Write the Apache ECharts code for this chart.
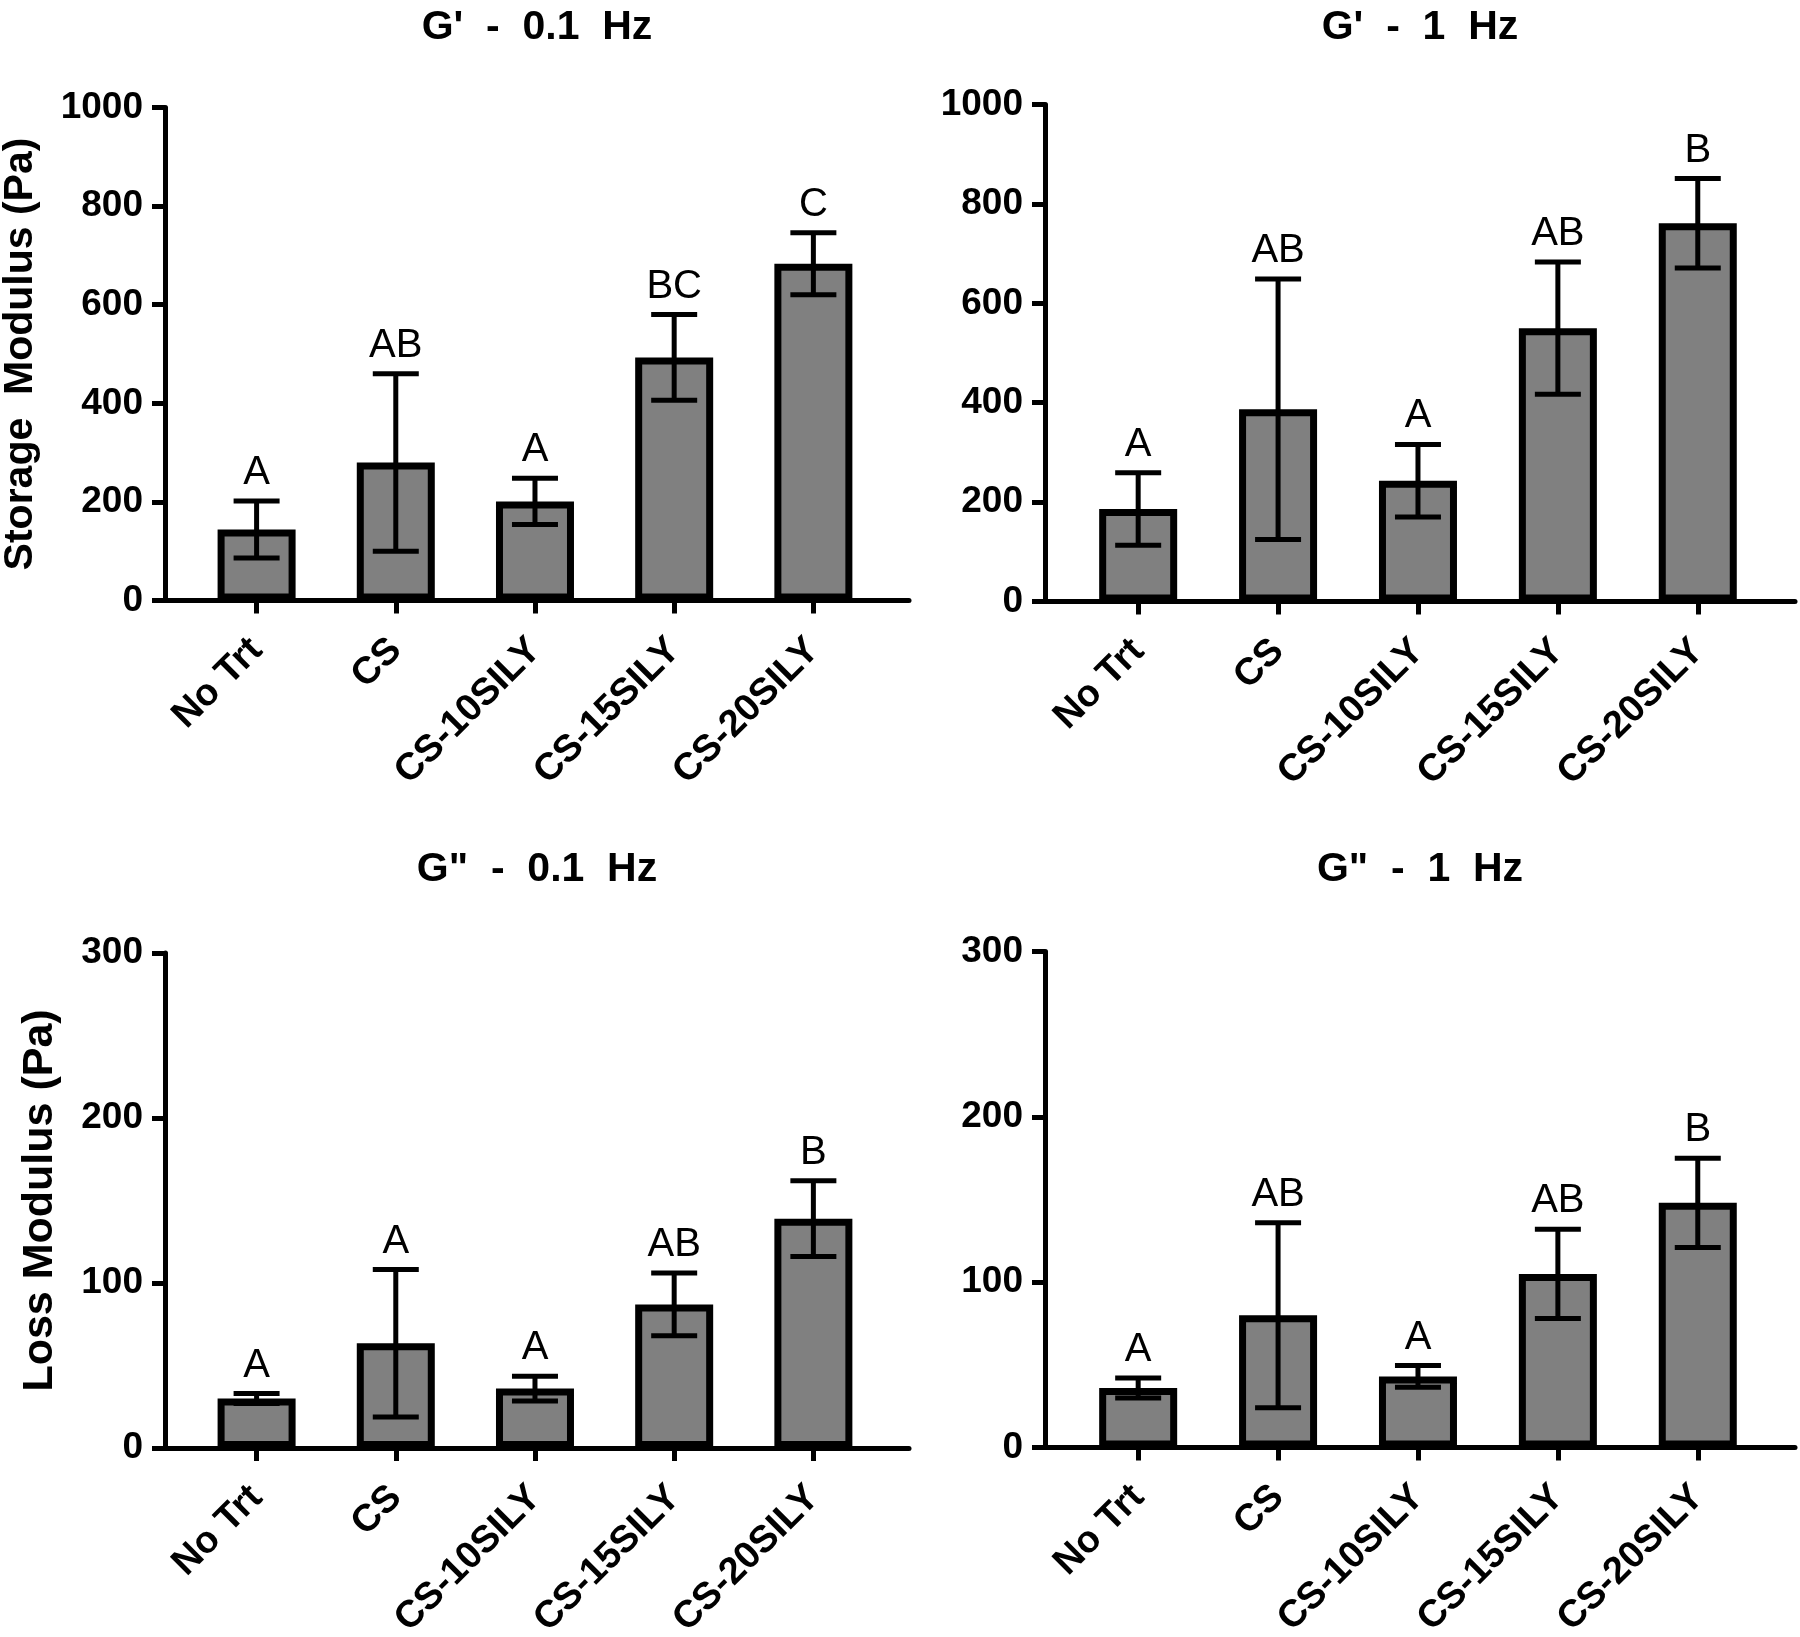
<!DOCTYPE html>
<html><head><meta charset="utf-8">
<script src="https://cdn.jsdelivr.net/npm/echarts@6/dist/echarts.min.js"></script>
<style>html,body{margin:0;padding:0;background:#fff}#c{width:1800px;height:1637px}</style>
</head><body><div id="c"></div>
<script>
// ---- data ----
const categories = ['No Trt', 'CS', 'CS-10SILY', 'CS-15SILY', 'CS-20SILY'];

const storage01Mean = [144, 280, 201, 493, 683];
const storage01Err  = [58, 180, 47, 87, 63];
const storage01Letters = ['A', 'AB', 'A', 'BC', 'C'];

const storage1Mean = [186, 387, 243, 550, 761];
const storage1Err  = [73, 262, 73, 133, 90];
const storage1Letters = ['A', 'AB', 'A', 'AB', 'B'];

const loss01Mean = [30, 63.5, 36, 87, 139];
const loss01Err  = [3, 44.7, 7.5, 19, 23];
const loss01Letters = ['A', 'A', 'A', 'AB', 'B'];

const loss1Mean = [36, 80, 43, 105, 148];
const loss1Err  = [6, 56, 6.6, 27, 27];
const loss1Letters = ['A', 'AB', 'A', 'AB', 'B'];

const storageTicks = [0, 200, 400, 600, 800, 1000];
const lossTicks = [0, 100, 200, 300];

// ---- layout ----
const FONT = '"Liberation Sans", Arial, Helvetica, sans-serif';
const panels = [
  { title: "G'  -  0.1  Hz", mean: storage01Mean, err: storage01Err, letters: storage01Letters, ticks: storageTicks,
    yName: 'Storage  Modulus (Pa)', nameGap: 124, nameSize: 41,
    grid: { left: 165, top: 107.5, width: 744, height: 493 }, xmin: -0.658, xmax: 4.687, barW: 85 },
  { title: "G'  -  1  Hz", mean: storage1Mean, err: storage1Err, letters: storage1Letters, ticks: storageTicks,
    yName: '', grid: { left: 1045, top: 104.5, width: 750, height: 497 }, xmin: -0.666, xmax: 4.695, barW: 85 },
  { title: 'G"  -  0.1  Hz', mean: loss01Mean, err: loss01Err, letters: loss01Letters, ticks: lossTicks,
    yName: 'Loss Modulus (Pa)', nameGap: 103, nameSize: 43,
    grid: { left: 165, top: 953, width: 744, height: 495 }, xmin: -0.658, xmax: 4.687, barW: 85 },
  { title: 'G"  -  1  Hz', mean: loss1Mean, err: loss1Err, letters: loss1Letters, ticks: lossTicks,
    yName: '', grid: { left: 1045, top: 951.5, width: 750, height: 496 }, xmin: -0.666, xmax: 4.695, barW: 85 }
];
const titleBaselines = [40, 40, 882, 882];

const chart = echarts.init(document.getElementById('c'), null, { renderer: 'canvas' });

const grids = [], xAxes = [], yAxes = [], series = [], graphics = [];
panels.forEach((p, k) => {
  grids.push(Object.assign({ containLabel: false, outerBoundsMode: 'none' }, p.grid));
  xAxes.push({
    type: 'value', gridIndex: k, min: p.xmin, max: p.xmax,
    axisLine: { show: true, onZero: false, lineStyle: { color: '#000', width: 5 } },
    axisTick: { show: true, customValues: [0, 1, 2, 3, 4], length: 13, lineStyle: { color: '#000', width: 5 } },
    axisLabel: {
      show: true, customValues: [0, 1, 2, 3, 4], rotate: 45, margin: 44,
      formatter: v => categories[Math.round(v)],
      color: '#000', fontSize: 38, fontWeight: 'bold', fontFamily: FONT
    },
    splitLine: { show: false }
  });
  const tmax = p.ticks[p.ticks.length - 1];
  yAxes.push({
    type: 'value', gridIndex: k, min: p.ticks[0], max: tmax, interval: p.ticks[1] - p.ticks[0],
    name: p.yName, nameLocation: 'middle', nameGap: p.nameGap || 0, nameRotate: 90,
    nameTextStyle: { color: '#000', fontSize: p.nameSize || 40, fontWeight: 'bold', fontFamily: FONT },
    axisLine: { show: true, onZero: false, lineStyle: { color: '#000', width: 5 } },
    axisTick: { show: true, length: 13, lineStyle: { color: '#000', width: 5 } },
    axisLabel: { show: true, margin: 22, color: '#000', fontSize: 37, fontWeight: 'bold', fontFamily: FONT,
                 formatter: v => String(v) },
    splitLine: { show: false }
  });
  series.push({
    type: 'bar', xAxisIndex: k, yAxisIndex: k, barWidth: p.barW - 7,
    data: p.mean.map((v, i) => [i, v]),
    itemStyle: { color: '#808080', borderColor: '#000', borderWidth: 7 },
    z: 2
  });
  series.push({
    type: 'custom', xAxisIndex: k, yAxisIndex: k, z: 5,
    data: p.mean.map((v, i) => [i, v, p.err[i]]),
    renderItem: (params, api) => {
      const x = api.value(0), m = api.value(1), e = api.value(2);
      const top = api.coord([x, m + e]);
      const bot = api.coord([x, m - e]);
      const hw = 23;
      const st = { stroke: '#000', lineWidth: 5 };
      return {
        type: 'group', children: [
          { type: 'line', shape: { x1: top[0], y1: top[1], x2: bot[0], y2: bot[1] }, style: st },
          { type: 'line', shape: { x1: top[0] - hw, y1: top[1], x2: top[0] + hw, y2: top[1] }, style: st },
          { type: 'line', shape: { x1: bot[0] - hw, y1: bot[1], x2: bot[0] + hw, y2: bot[1] }, style: st },
          { type: 'text', x: top[0], y: top[1] - 8,
            style: { text: p.letters[params.dataIndex], fill: '#000', align: 'center', verticalAlign: 'bottom',
                     fontSize: 40, fontFamily: FONT } }
        ]
      };
    }
  });
  graphics.push({
    type: 'text', x: p.grid.left + p.grid.width / 2, y: titleBaselines[k] + 8,
    style: { text: p.title, fill: '#000', align: 'center', verticalAlign: 'bottom',
             fontSize: 41, fontWeight: 'bold', fontFamily: FONT }
  });
});

chart.setOption({
  animation: false,
  backgroundColor: '#fff',
  grid: grids, xAxis: xAxes, yAxis: yAxes, series: series, graphic: graphics
});
</script></body></html>
